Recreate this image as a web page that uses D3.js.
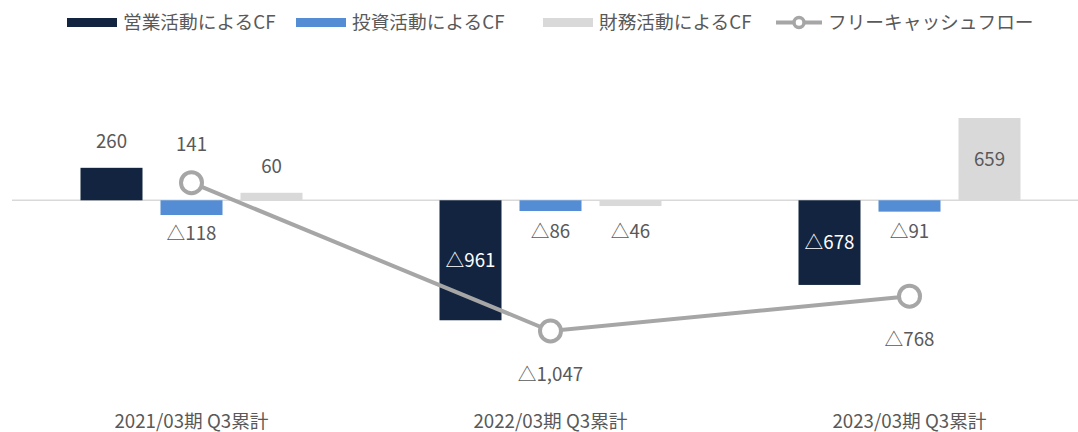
<!DOCTYPE html>
<html>
<head>
  <meta charset="utf-8">
  <title>キャッシュフロー</title>
  <script src="https://d3js.org/d3.v7.min.js"></script>
  <style>
    body { margin: 0; background: #fff; }
    text { font-family: "Noto Sans CJK JP", "Noto Sans", sans-serif; fill: #595959; font-size: 18.7px; }
  </style>
</head>
<body>
  <svg id="chart" width="1078" height="432"></svg>
  <script>
    // data
    const periods = ["2021/03期 Q3累計", "2022/03期 Q3累計", "2023/03期 Q3累計"];
    const seriesNames = ["営業活動によるCF", "投資活動によるCF", "財務活動によるCF"];
    const operatingCF = [260, -961, -678];
    const investingCF = [-118, -86, -91];
    const financingCF = [60, -46, 659];
    const freeCF = [141, -1047, -768];
    const freeName = "フリーキャッシュフロー";

    const colors = ["#12243f", "#548dd4", "#d9d9d9"];
    const lineColor = "#a6a6a6";

    const svg = d3.select("#chart");

    const x = d3.scaleBand()
      .domain(periods)
      .range([12, 1089])
      .padding(0);

    // bars 62 wide, 80 apart
    const inner = d3.scaleBand()
      .domain(seriesNames)
      .range([-111, 111])
      .paddingInner(0.225)
      .paddingOuter(0);

    const y = d3.scaleLinear()
      .domain([-1047, 659])
      .range([331, 118]);

    const fmt = v => (v < 0 ? "△" : "") + d3.format(",")(Math.abs(v));

    // zero line
    svg.append("line")
      .attr("x1", 12).attr("x2", 1089)
      .attr("y1", y(0)).attr("y2", y(0))
      .attr("stroke", "#d9d9d9").attr("stroke-width", 1.5);

    const seriesData = [operatingCF, investingCF, financingCF];
    const bars = [];
    seriesData.forEach((vals, s) => {
      vals.forEach((v, i) => bars.push({ s, name: seriesNames[s], period: periods[i], v }));
    });

    const cx = d => x(d.period) + x.bandwidth() / 2 + inner(d.name);

    svg.append("g").selectAll("rect")
      .data(bars)
      .join("rect")
      .attr("x", cx)
      .attr("width", inner.bandwidth())
      .attr("y", d => y(Math.max(0, d.v)))
      .attr("height", d => Math.abs(y(d.v) - y(0)))
      .attr("fill", d => colors[d.s]);

    // bar labels
    svg.append("g").selectAll("text")
      .data(bars)
      .join("text")
      .attr("x", d => cx(d) + inner.bandwidth() / 2)
      .attr("y", d => {
        const h = Math.abs(y(d.v) - y(0));
        if (h > 60) return (y(d.v) + y(0)) / 2;
        if (d.v >= 0) return y(d.v) - 26;
        return Math.max(y(d.v) + 18, y(0) + 31);
      })
      .attr("dy", "0.35em")
      .attr("text-anchor", "middle")
      .style("fill", d => (Math.abs(y(d.v) - y(0)) > 60 && d.s === 0) ? "#fff" : "#595959")
      .text(d => fmt(d.v));

    // free cash flow line
    const px = (d, i) => x(periods[i]) + x.bandwidth() / 2;
    const line = d3.line().x(px).y(d => y(d));

    svg.append("path")
      .datum(freeCF)
      .attr("d", line)
      .attr("fill", "none")
      .attr("stroke", lineColor)
      .attr("stroke-width", 4);

    svg.append("g").selectAll("circle")
      .data(freeCF)
      .join("circle")
      .attr("cx", px)
      .attr("cy", d => y(d))
      .attr("r", 10.5)
      .attr("fill", "#fff")
      .attr("stroke", lineColor)
      .attr("stroke-width", 4);

    svg.append("g").selectAll("text")
      .data(freeCF)
      .join("text")
      .attr("x", px)
      .attr("y", d => d >= 0 ? y(d) - 38 : y(d) + 43)
      .attr("dy", "0.35em")
      .attr("text-anchor", "middle")
      .text(d => fmt(d));

    // category labels
    svg.append("g").selectAll("text")
      .data(periods)
      .join("text")
      .attr("x", d => x(d) + x.bandwidth() / 2)
      .attr("y", 421)
      .attr("dy", "0.35em")
      .attr("text-anchor", "middle")
      .text(d => d);

    // legend
    const legendX = [67, 296, 543];
    const legend = svg.append("g");
    seriesNames.forEach((n, i) => {
      legend.append("rect")
        .attr("x", legendX[i]).attr("y", 18)
        .attr("width", 50).attr("height", 9)
        .attr("fill", colors[i]);
      legend.append("text")
        .attr("x", legendX[i] + 56).attr("y", 22.5)
        .attr("dy", "0.35em")
        .text(n);
    });
    const lx = 776;
    legend.append("line")
      .attr("x1", lx).attr("x2", lx + 46)
      .attr("y1", 22.5).attr("y2", 22.5)
      .attr("stroke", lineColor).attr("stroke-width", 4);
    legend.append("circle")
      .attr("cx", lx + 23).attr("cy", 22.5).attr("r", 5)
      .attr("fill", "#fff").attr("stroke", lineColor).attr("stroke-width", 3.5);
    legend.append("text")
      .attr("x", lx + 52).attr("y", 22.5)
      .attr("dy", "0.35em")
      .text(freeName);
  </script>
</body>
</html>
